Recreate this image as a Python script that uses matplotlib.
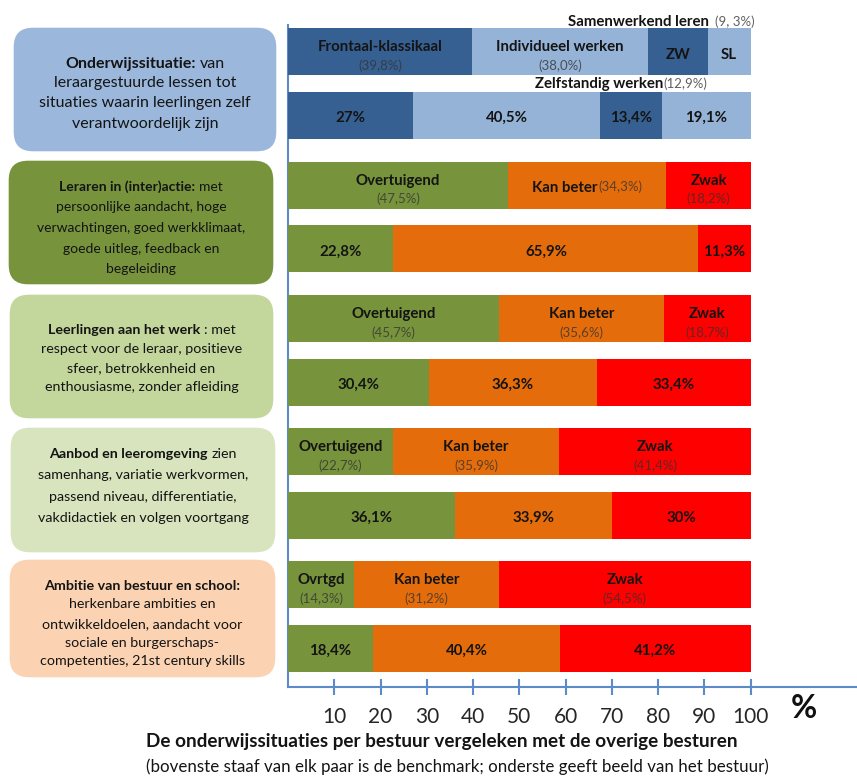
import matplotlib
matplotlib.use("Agg")
import matplotlib.pyplot as plt
from matplotlib.patches import FancyBboxPatch

# ---------------- data ----------------
situatie_names = ["Frontaal-klassikaal", "Individueel werken", "Zelfstandig werken", "Samenwerkend leren"]
situatie_short = ["Frontaal-klassikaal", "Individueel werken", "ZW", "SL"]
situatie_bench = [39.8, 38.0, 12.9, 9.3]
situatie_bestuur = [27.0, 40.5, 13.4, 19.1]

oordeel_names = ["Overtuigend", "Kan beter", "Zwak"]
leraren_bench = [47.5, 34.3, 18.2]
leraren_bestuur = [22.8, 65.9, 11.3]
leerlingen_bench = [45.7, 35.6, 18.7]
leerlingen_bestuur = [30.4, 36.3, 33.4]
aanbod_bench = [22.7, 35.9, 41.4]
aanbod_bestuur = [36.1, 33.9, 30.0]
ambitie_bench = [14.3, 31.2, 54.5]
ambitie_bestuur = [18.4, 40.4, 41.2]

x_ticks = [10, 20, 30, 40, 50, 60, 70, 80, 90, 100]

box_texts = [
    [[("Onderwijssituatie:", "bold"), ("van", "normal")],
     [("leraargestuurde lessen tot", "normal")],
     [("situaties waarin leerlingen zelf", "normal")],
     [("verantwoordelijk zijn", "normal")]],
    [[("Leraren in (inter)actie:", "bold"), ("met", "normal")],
     [("persoonlijke aandacht, hoge", "normal")],
     [("verwachtingen, goed werkklimaat,", "normal")],
     [("goede uitleg, feedback en", "normal")],
     [("begeleiding", "normal")]],
    [[("Leerlingen aan het werk", "bold"), (": met", "normal")],
     [("respect voor de leraar, positieve", "normal")],
     [("sfeer, betrokkenheid en", "normal")],
     [("enthousiasme, zonder afleiding", "normal")]],
    [[("Aanbod en leeromgeving", "bold"), ("zien", "normal")],
     [("samenhang, variatie werkvormen,", "normal")],
     [("passend niveau, differentiatie,", "normal")],
     [("vakdidactiek en volgen voortgang", "normal")]],
    [[("Ambitie van bestuur en school:", "bold")],
     [("herkenbare ambities en", "normal")],
     [("ontwikkeldoelen, aandacht voor", "normal")],
     [("sociale en burgerschaps-", "normal")],
     [("competenties, 21st century skills", "normal")]],
]
title = "De onderwijssituaties per bestuur vergeleken met de overige besturen"
subtitle = "(bovenste staaf van elk paar is de benchmark; onderste geeft beeld van het bestuur)"

# ---------------- styles / layout ----------------
FONT = "Lato"
W, H, DPI = 857, 778, 100
DARK_BLUE = "#366092"
LIGHT_BLUE = "#95B3D7"
GREEN = "#77933C"
ORANGE = "#E46C0A"
RED = "#FF0000"
AXIS_BLUE = "#5B8BC9"
TXT = "#141414"
box_colors = ["#9BB8DC", "#77933C", "#C3D69B", "#D7E4BD", "#FBD3B2"]
box_extents = [(13, 27, 264, 125), (8, 160, 266, 125), (9, 294, 265, 125),
               (10, 427, 266, 126), (9, 559, 267, 119)]
box_line_y = [[62, 81, 101, 122], [186, 206, 227, 248, 268], [329, 348, 367, 386],
              [453, 474, 496, 517], [585, 603, 623, 642, 660]]
box_font = [11.5, 10.0, 10.3, 10.3, 10.3]

X0, X100 = 288, 750.7
AX_TOP, AX_BOT = 25, 687
FIRST, PAIR, OFFSET, BAR_H = 26.9, 133.2, 63.8, 47

fig = plt.figure(figsize=(W / DPI, H / DPI), dpi=DPI)
bg = fig.add_axes([0, 0, 1, 1])
bg.set_xlim(0, W)
bg.set_ylim(H, 0)
bg.axis("off")

ax = fig.add_axes([X0 / W, 1 - AX_BOT / H, (W - X0) / W, (AX_BOT - AX_TOP) / H])
ax.set_xlim(0, (W - X0) / ((X100 - X0) / 100))
ax.set_ylim(AX_BOT - AX_TOP, 0)
ax.patch.set_alpha(0)
for s in ["top", "right"]:
    ax.spines[s].set_visible(False)
for s in ["left", "bottom"]:
    ax.spines[s].set_color(AXIS_BLUE)
    ax.spines[s].set_linewidth(1.5)
ax.set_yticks([])
ax.set_xticks(x_ticks)
ax.set_xticklabels([str(t) for t in x_ticks], fontsize=15, family=FONT, color="#262626")
ax.tick_params(axis="x", direction="inout", length=11.5, width=1.5, color=AXIS_BLUE, pad=9)

# overlay for all text (above bars)
top = fig.add_axes([0, 0, 1, 1])
top.set_xlim(0, W)
top.set_ylim(H, 0)
top.axis("off")
top.patch.set_alpha(0)

renderer = fig.canvas.get_renderer()


def to_px(x, y):
    dx, dy = ax.transData.transform((x, y))
    return dx, H - dy


def rich(x, y, parts, ha="center", size=10):
    """parts: list of (text, weight, color, alpha, size)"""
    objs, widths = [], []
    for (s, w, c, a, sz) in parts:
        t = top.text(0, y, s, fontsize=sz, fontweight=w, color=c, alpha=a,
                     ha="left", va="center_baseline", family=FONT, zorder=10)
        objs.append(t)
        widths.append(t.get_window_extent(renderer).width)
    gap = 0.26 * size * DPI / 72
    total = sum(widths) + gap * (len(parts) - 1)
    if ha == "center":
        start = x - total / 2
    elif ha == "right":
        start = x - total
    else:
        start = x
    for t, w in zip(objs, widths):
        t.set_x(start)
        start += w + gap


def pct(v, keep=True):
    s = f"{v:.1f}".replace(".", ",")
    if not keep and s.endswith(",0"):
        s = s[:-2]
    return s + "%"


# ---------------- left boxes ----------------
for i, (x, y, w, h) in enumerate(box_extents):
    p = FancyBboxPatch((x, y), w, h, boxstyle="round,pad=0,rounding_size=20",
                       facecolor=box_colors[i], edgecolor="white", linewidth=1.0, zorder=1)
    bg.add_patch(p)
    cx = x + w / 2
    for line, ly in zip(box_texts[i], box_line_y[i]):
        parts = [(s, wt, TXT, 1.0, box_font[i]) for (s, wt) in line]
        rich(cx, ly, parts, size=box_font[i])

# ---------------- bars ----------------
groups = [
    (situatie_bench, situatie_bestuur, [DARK_BLUE, LIGHT_BLUE, DARK_BLUE, LIGHT_BLUE]),
    (leraren_bench, leraren_bestuur, [GREEN, ORANGE, RED]),
    (leerlingen_bench, leerlingen_bestuur, [GREEN, ORANGE, RED]),
    (aanbod_bench, aanbod_bestuur, [GREEN, ORANGE, RED]),
    (ambitie_bench, ambitie_bestuur, [GREEN, ORANGE, RED]),
]

LBL = 10.8
VAL = 9.5
PAREN_C = "#333333"
PAREN_A = 0.78
for gi, (bench, best, cols) in enumerate(groups):
    for wi, vals in enumerate([bench, best]):
        yc = FIRST + gi * PAIR + wi * OFFSET
        left = 0
        for si, v in enumerate(vals):
            ax.barh(yc, v, left=left, height=BAR_H, color=cols[si], edgecolor="none", zorder=3)
            cxp, cyp = to_px(left + v / 2, yc)
            if wi == 1:
                rich(cxp, cyp + 1, [(pct(v, False), "bold", TXT, 1, LBL)], size=LBL)
            else:
                if gi == 0:
                    name = situatie_short[si]
                    if si >= 2:
                        rich(cxp, cyp + 2, [(name, "bold", TXT, 1, LBL)], size=LBL)
                        ex, ey = to_px(left + v, yc)
                        if si == 3:
                            rich(ex + 4, cyp - 31, [(situatie_names[si], "bold", TXT, 1, LBL),
                                                    ("(" + pct(v).replace(",", ", ") + ")", "normal", PAREN_C, PAREN_A, VAL)],
                                 ha="right", size=LBL * 1.6)
                        else:
                            rich(ex, cyp + 31, [(situatie_names[si], "bold", TXT, 1, LBL),
                                                ("(" + pct(v) + ")", "normal", PAREN_C, PAREN_A, VAL)],
                                 ha="right", size=1)
                        left += v
                        continue
                else:
                    name = oordeel_names[si]
                    if gi == 4 and si == 0:
                        name = "Ovrtgd"
                if gi == 1 and si == 1:
                    rich(cxp, cyp + 1, [(name, "bold", TXT, 1, LBL),
                                        ("(" + pct(v) + ")", "normal", PAREN_C, PAREN_A, VAL)], size=4)
                else:
                    rich(cxp, cyp - 6, [(name, "bold", TXT, 1, LBL)], size=LBL)
                    rich(cxp, cyp + 13, [("(" + pct(v) + ")", "normal", PAREN_C, PAREN_A, VAL)], size=LBL)
            left += v

# ---------------- bottom texts ----------------
top.text(804, 709, "%", fontsize=23, fontweight="bold", family=FONT, color="#111111",
         ha="center", va="center")
top.text(146, 742, title, fontsize=13.6, fontweight="bold", family=FONT, color=TXT,
         ha="left", va="center")
top.text(146, 767, subtitle, fontsize=12.2, family=FONT, color=TXT, ha="left", va="center")

fig.savefig("out.png", dpi=DPI)
